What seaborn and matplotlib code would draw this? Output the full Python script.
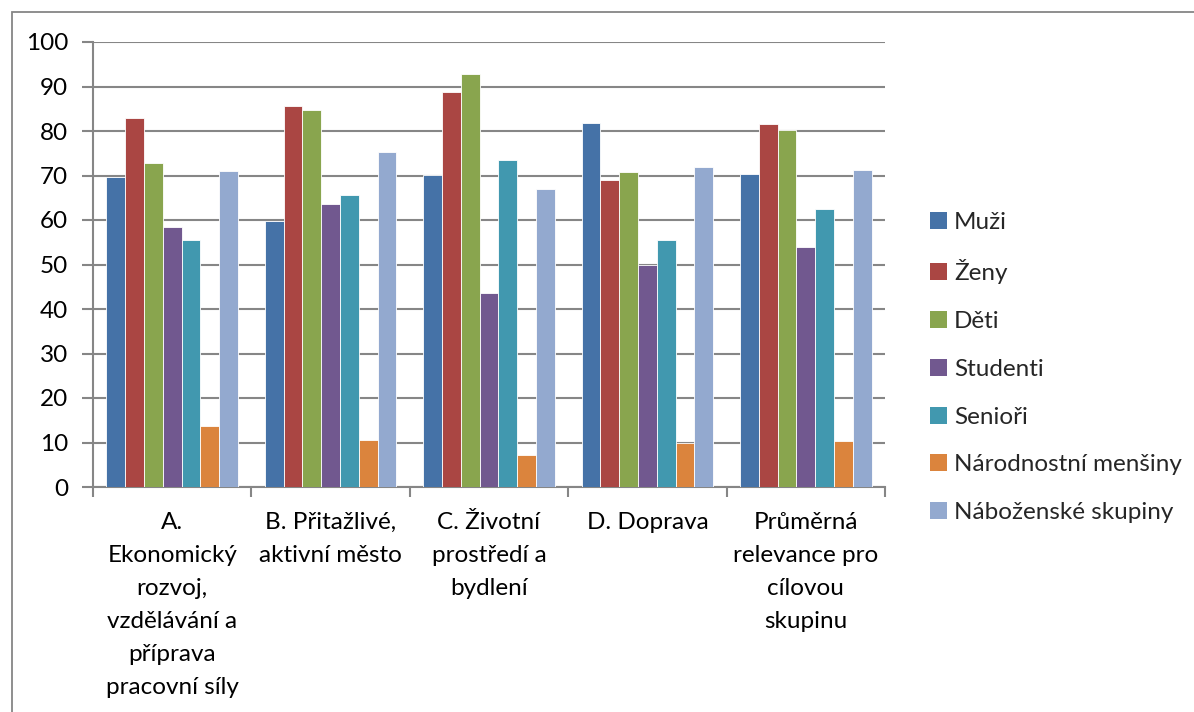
import numpy as np
import pandas as pd
import matplotlib
matplotlib.use("Agg")
import matplotlib.pyplot as plt
from matplotlib.patches import Rectangle, Patch
import seaborn as sns

# data
categories = [
    "A.\nEkonomický\nrozvoj,\nvzdělávání a\npříprava\npracovní síly",
    "B. Přitažlivé,\naktivní město",
    "C. Životní\nprostředí a\nbydlení",
    "D. Doprava",
    "Průměrná\nrelevance pro\ncílovou\nskupinu",
]
series_names = ["Muži", "Ženy", "Děti", "Studenti", "Senioři",
                "Národnostní menšiny", "Náboženské skupiny"]
muzi = [69.6, 59.7, 70.2, 81.8, 70.3]
zeny = [82.9, 85.6, 88.8, 68.9, 81.6]
deti = [72.8, 84.8, 92.8, 70.8, 80.3]
studenti = [58.4, 63.5, 43.7, 49.9, 53.9]
seniori = [55.6, 65.7, 73.4, 55.4, 62.5]
narodnostni = [13.7, 10.6, 7.2, 9.8, 10.4]
nabozenske = [71.0, 75.3, 66.9, 71.8, 71.3]
colors = ["#4572A7", "#AA4643", "#89A54E", "#71588F", "#4198AF",
          "#DB843D", "#93A9CF"]

values = [muzi, zeny, deti, studenti, seniori, narodnostni, nabozenske]
rows = []
for name, vals in zip(series_names, values):
    for cat, v in zip(categories, vals):
        rows.append({"kategorie": cat, "skupina": name, "hodnota": v})
df = pd.DataFrame(rows)

sns.set_style("white")
plt.rcParams["font.family"] = ["Lato", "DejaVu Sans"]

fig = plt.figure(figsize=(11.94, 7.12), dpi=100)
ax = fig.add_axes([93 / 1194, 1 - 487 / 712, (885 - 93) / 1194, (487 - 42) / 712])

grey = "#868686"
sns.barplot(data=df, x="kategorie", y="hodnota", hue="skupina",
            order=categories, hue_order=series_names, palette=colors,
            saturation=1, width=0.83, edgecolor="white", linewidth=0.6,
            legend=False, ax=ax, zorder=3)

ax.set_xlim(-0.5, len(categories) - 0.5)
ax.set_ylim(0, 100)
ax.set_yticks(np.arange(0, 101, 10))
ax.yaxis.grid(True, color=grey, linewidth=1.5, zorder=0)
ax.set_axisbelow(True)
ax.set_xlabel("")
ax.set_ylabel("")

for side in ["top", "right"]:
    ax.spines[side].set_visible(False)
for side in ["left", "bottom"]:
    ax.spines[side].set_color(grey)
    ax.spines[side].set_linewidth(1.5)

# category boundary ticks on the x axis, labels centered in between
ax.set_xticks(np.arange(-0.5, len(categories), 1.0))
ax.set_xticklabels([])
ax.set_xticks(np.arange(len(categories)), minor=True)
ax.set_xticklabels(categories, minor=True, fontsize=17.5, linespacing=1.7)
ax.tick_params(axis="x", which="major", length=7, width=1.5, color=grey,
               direction="out", bottom=True)
ax.tick_params(axis="x", which="minor", length=0, pad=18)
ax.tick_params(axis="y", length=8, width=1.5, color=grey, direction="out",
               left=True, labelsize=17.5, pad=10)
for t in ax.get_yticklabels() + ax.get_xticklabels(minor=True):
    t.set_color("black")

handles = [Patch(facecolor=c, edgecolor="none") for c in colors]
fig.legend(handles, series_names, loc="upper left",
           bbox_to_anchor=(920 / 1194, 1 - 202 / 712), frameon=False,
           fontsize=17.5, handlelength=0.7, handleheight=0.7,
           handletextpad=0.3, labelspacing=1.1, borderaxespad=0)

# outer chart border (only top and left edges visible in the reference)
fig.patches.append(Rectangle((12 / 1194, -0.1), 1.2, 0.1 + (712 - 12) / 712,
                             transform=fig.transFigure, fill=False,
                             edgecolor=grey, linewidth=1.3))

fig.savefig("out.png", dpi=100)
